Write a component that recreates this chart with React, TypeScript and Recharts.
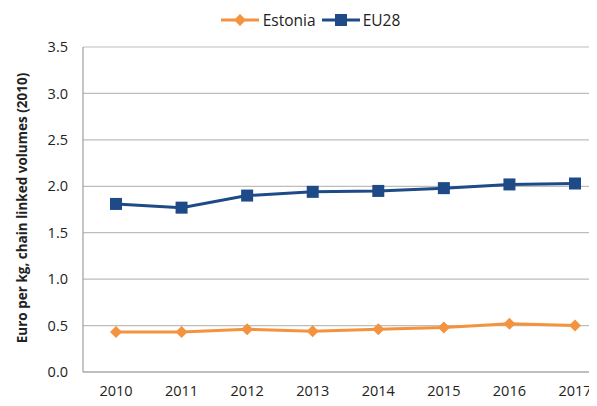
import React from "react"
import { LineChart, Line, XAxis, YAxis, CartesianGrid, Legend } from "recharts"

const years = ["2010", "2011", "2012", "2013", "2014", "2015", "2016", "2017"]
const estonia = [0.43, 0.43, 0.46, 0.44, 0.46, 0.48, 0.52, 0.5]
const eu28 = [1.81, 1.77, 1.9, 1.94, 1.95, 1.98, 2.02, 2.03]
const yTicks = [0, 0.5, 1, 1.5, 2, 2.5, 3, 3.5]

const ORANGE = "#F5923E"
const BLUE = "#1E4A87"
const FONT = "'Open Sans', 'Noto Sans', sans-serif"

const data = years.map((year, i) => ({ year, Estonia: estonia[i], EU28: eu28[i] }))

const Diamond = (props: any) => {
  const { cx, cy } = props
  if (cx == null || cy == null) return null
  const r = 6
  return <path d={`M${cx},${cy - r}L${cx + r},${cy}L${cx},${cy + r}L${cx - r},${cy}Z`} fill={ORANGE} />
}

const Square = (props: any) => {
  const { cx, cy } = props
  if (cx == null || cy == null) return null
  return <rect x={cx - 6} y={cy - 6} width={12} height={12} fill={BLUE} />
}

const LegendContent = () => (
  <div style={{ display: "flex", justifyContent: "center", alignItems: "center", height: 20, fontFamily: FONT, fontSize: 15.5, color: "#222" }}>
    <svg width={38} height={14} style={{ marginRight: 4 }}>
      <line x1={0} y1={7} x2={38} y2={7} stroke={ORANGE} strokeWidth={3} />
      <path d="M19,1L25,7L19,13L13,7Z" fill={ORANGE} />
    </svg>
    <span style={{ marginRight: 6 }}>Estonia</span>
    <svg width={38} height={14} style={{ marginRight: 3 }}>
      <line x1={0} y1={7} x2={38} y2={7} stroke={BLUE} strokeWidth={3} />
      <rect x={13} y={1} width={12} height={12} fill={BLUE} />
    </svg>
    <span>EU28</span>
  </div>
)

export default function App() {
  return (
    <div style={{ margin: -8, width: 597, height: 406, overflow: "hidden", background: "#fff" }}>
      <LineChart width={630} height={406} data={data} margin={{ top: 27, right: 22, bottom: 4, left: 0 }}>
        <CartesianGrid vertical={false} stroke="#BDBDBD" strokeWidth={1.2} />
        <Legend
          verticalAlign="top"
          height={20}
          content={<LegendContent />}
          wrapperStyle={{ top: 10, left: 0, width: 597, paddingLeft: 24, boxSizing: "border-box" }}
        />
        <XAxis
          dataKey="year"
          padding={{ left: 33, right: 33 }}
          tick={{ fill: "#222", fontSize: 14.5, fontFamily: FONT }}
          tickLine={false}
          axisLine={{ stroke: "#9E9E9E", strokeWidth: 1.2 }}
          tickMargin={8}
          height={30}
        />
        <YAxis
          domain={[0, 3.5]}
          ticks={yTicks}
          tickFormatter={(v: number) => v.toFixed(1)}
          tick={{ fill: "#222", fontSize: 14.5, fontFamily: FONT }}
          tickLine={false}
          axisLine={{ stroke: "#9E9E9E", strokeWidth: 1.2 }}
          tickMargin={9}
          width={83}
          label={() => (
            <text
              x={22}
              y={208}
              transform="rotate(-90 22 208)"
              textAnchor="middle"
              dominantBaseline="central"
              fontFamily={FONT}
              fontWeight="bold"
              fontSize={13.5}
              fill="#222"
            >
              Euro per kg, chain linked volumes (2010)
            </text>
          )}
        />
        <Line dataKey="Estonia" stroke={ORANGE} strokeWidth={3} dot={<Diamond />} isAnimationActive={false} />
        <Line dataKey="EU28" stroke={BLUE} strokeWidth={3} dot={<Square />} isAnimationActive={false} />
      </LineChart>
    </div>
  )
}
